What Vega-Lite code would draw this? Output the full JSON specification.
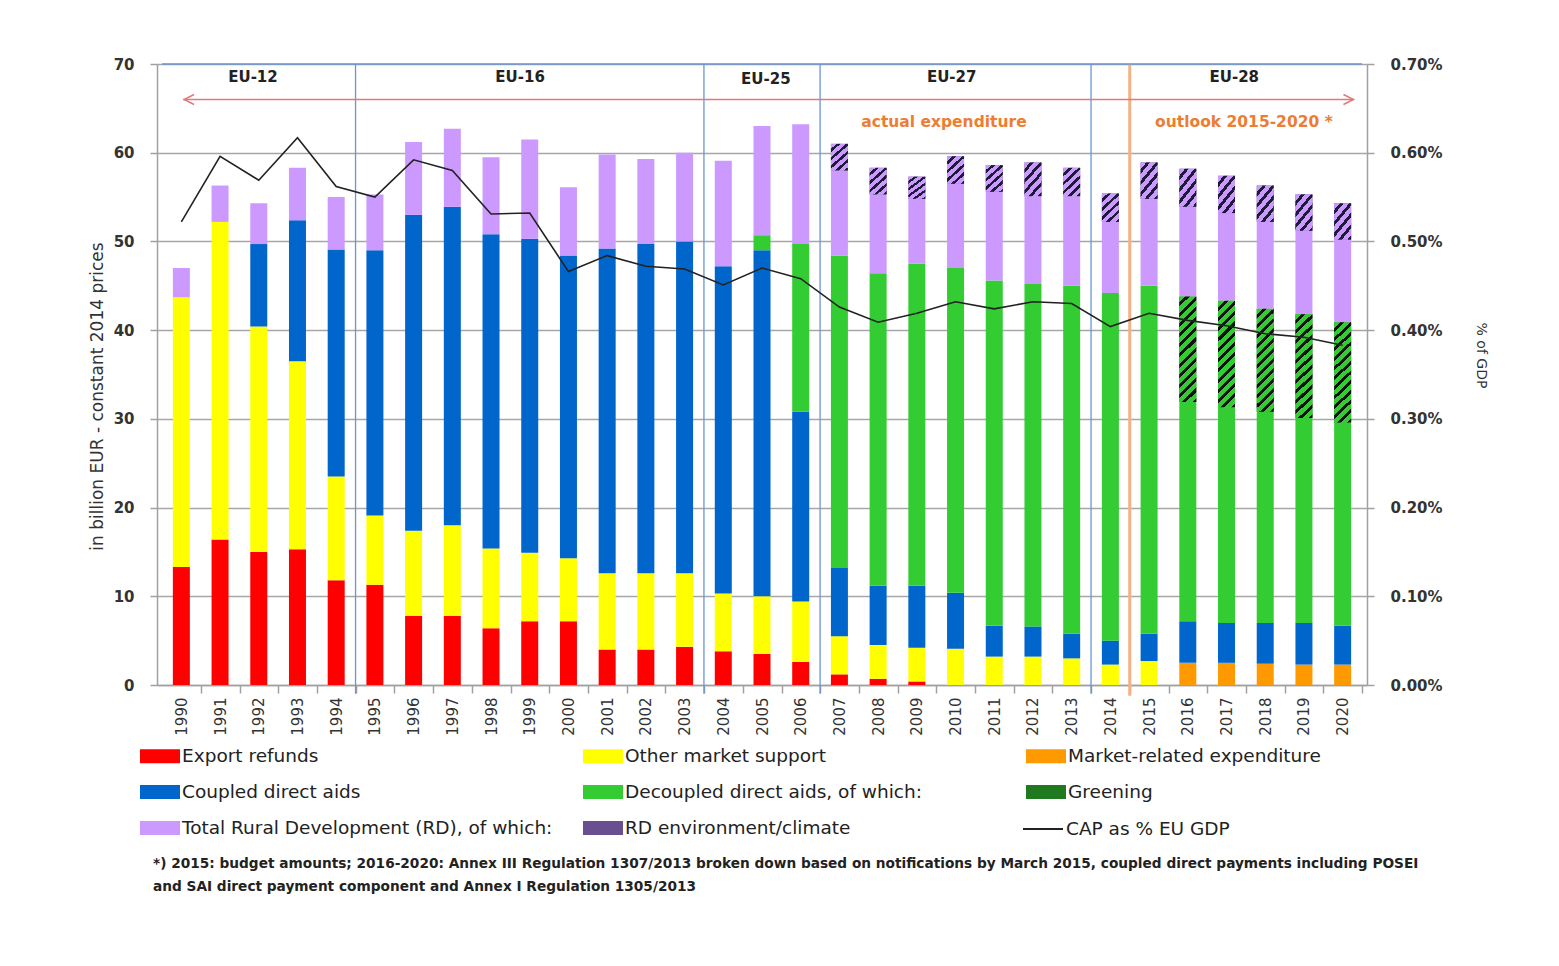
{
  "$schema": "https://vega.github.io/schema/vega-lite/v6.json",
  "width": 1210,
  "height": 621,
  "autosize": {"type": "none"},
  "padding": {"left": 157, "top": 64, "right": 192, "bottom": 281},
  "background": "#ffffff",
  "config": {"font": "DejaVu Sans", "view": {"stroke": null}},
  "title": {
    "text": ["*) 2015: budget amounts; 2016-2020: Annex III Regulation 1307/2013 broken down based on notifications by March 2015, coupled direct payments including POSEI", "and SAI direct payment component and Annex I Regulation 1305/2013"],
    "orient": "bottom", "anchor": "start", "frame": "group", "font": "DejaVu Sans", "fontSize": 13.7, "fontWeight": "bold", "color": "#222222", "offset": 18, "lineHeight": 23, "dx": -4
  },
  "datasets": {
    "cap": [
      {"year": 1990, "a": 13.3, "c": 30.4, "g": 3.3, "gdp": 0.00522},
      {"year": 1991, "a": 16.4, "c": 35.8, "g": 4.1, "gdp": 0.00596},
      {"year": 1992, "a": 15.0, "c": 25.4, "d": 9.3, "g": 4.6, "gdp": 0.00569},
      {"year": 1993, "a": 15.3, "c": 21.2, "d": 15.9, "g": 5.9, "gdp": 0.00617},
      {"year": 1994, "a": 11.8, "c": 11.7, "d": 25.6, "g": 5.9, "gdp": 0.00562},
      {"year": 1995, "a": 11.3, "c": 7.8, "d": 29.9, "g": 6.3, "gdp": 0.0055},
      {"year": 1996, "a": 7.8, "c": 9.6, "d": 35.6, "g": 8.2, "gdp": 0.00592},
      {"year": 1997, "a": 7.8, "c": 10.2, "d": 35.9, "g": 8.8, "gdp": 0.0058},
      {"year": 1998, "a": 6.4, "c": 9.0, "d": 35.4, "g": 8.7, "gdp": 0.00531},
      {"year": 1999, "a": 7.2, "c": 7.7, "d": 35.4, "g": 11.2, "gdp": 0.00532},
      {"year": 2000, "a": 7.2, "c": 7.1, "d": 34.1, "g": 7.7, "gdp": 0.00466},
      {"year": 2001, "a": 4.0, "c": 8.6, "d": 36.6, "g": 10.6, "gdp": 0.00484},
      {"year": 2002, "a": 4.0, "c": 8.6, "d": 37.1, "g": 9.6, "gdp": 0.00472},
      {"year": 2003, "a": 4.3, "c": 8.3, "d": 37.4, "g": 10.0, "gdp": 0.00469},
      {"year": 2004, "a": 3.8, "c": 6.5, "d": 36.9, "g": 11.9, "gdp": 0.00451},
      {"year": 2005, "a": 3.5, "c": 6.5, "d": 39.0, "e": 1.7, "g": 12.3, "gdp": 0.0047},
      {"year": 2006, "a": 2.6, "c": 6.8, "d": 21.4, "e": 18.9, "g": 13.5, "gdp": 0.00458},
      {"year": 2007, "a": 1.2, "c": 4.3, "d": 7.7, "e": 35.2, "g": 9.6, "h": 3.0, "gdp": 0.00426},
      {"year": 2008, "a": 0.7, "c": 3.8, "d": 6.7, "e": 35.2, "g": 8.9, "h": 3.0, "gdp": 0.00409},
      {"year": 2009, "a": 0.4, "c": 3.8, "d": 7.0, "e": 36.3, "g": 7.3, "h": 2.5, "gdp": 0.00419},
      {"year": 2010, "c": 4.1, "d": 6.3, "e": 36.6, "g": 9.5, "h": 3.1, "gdp": 0.00432},
      {"year": 2011, "c": 3.2, "d": 3.5, "e": 38.9, "g": 10.0, "h": 3.0, "gdp": 0.00424},
      {"year": 2012, "c": 3.2, "d": 3.4, "e": 38.6, "g": 9.9, "h": 3.8, "gdp": 0.00432},
      {"year": 2013, "c": 3.0, "d": 2.8, "e": 39.2, "g": 10.1, "h": 3.2, "gdp": 0.0043},
      {"year": 2014, "c": 2.3, "d": 2.7, "e": 39.2, "g": 8.0, "h": 3.2, "gdp": 0.00404},
      {"year": 2015, "c": 2.7, "d": 3.1, "e": 39.2, "g": 9.8, "h": 4.1, "gdp": 0.00419},
      {"year": 2016, "b": 2.5, "d": 4.7, "e": 24.7, "f": 11.9, "g": 10.1, "h": 4.3, "gdp": 0.00411},
      {"year": 2017, "b": 2.5, "d": 4.5, "e": 24.3, "f": 12.0, "g": 9.9, "h": 4.2, "gdp": 0.00405},
      {"year": 2018, "b": 2.4, "d": 4.6, "e": 23.8, "f": 11.6, "g": 9.8, "h": 4.1, "gdp": 0.00396},
      {"year": 2019, "b": 2.3, "d": 4.7, "e": 23.1, "f": 11.7, "g": 9.4, "h": 4.1, "gdp": 0.00392},
      {"year": 2020, "b": 2.3, "d": 4.4, "e": 22.9, "f": 11.3, "g": 9.3, "h": 4.1, "gdp": 0.00383}
    ]
  },
  "encoding": {
    "x": {
      "type": "quantitative",
      "scale": {"domain": [1989.5, 2020.5], "nice": false, "zero": false}
    }
  },
  "layer": [
    {
      "layer": [
        {
          "data": {"name": "cap"},
          "transform": [
            {"fold": ["a", "b", "c", "d", "e", "f", "g", "h"], "as": ["key", "value"]},
            {"filter": "isValid(datum.value)"},
            {"stack": "value", "groupby": ["year"], "sort": [{"field": "key", "order": "ascending"}], "as": ["v0", "v1"]}
          ],
          "layer": [
            {
              "mark": {"type": "bar", "width": 17},
              "encoding": {
                "x": {
                  "field": "year", "type": "quantitative",
                  "axis": {
                    "values": [1990, 1991, 1992, 1993, 1994, 1995, 1996, 1997, 1998, 1999, 2000, 2001, 2002, 2003, 2004, 2005, 2006, 2007, 2008, 2009, 2010, 2011, 2012, 2013, 2014, 2015, 2016, 2017, 2018, 2019, 2020],
                    "format": "d", "labelAngle": -90, "labelFontSize": 15, "labelColor": "#333333",
                    "title": null, "grid": false, "domainColor": "#a0a0a0", "domainWidth": 1.5,
                    "tickColor": "#a0a0a0", "tickWidth": 1.5, "tickSize": 8, "tickOffset": 19.5, "labelOffset": -19.5, "labelPadding": 4
                  }
                },
                "y": {
                  "field": "v0", "type": "quantitative",
                  "scale": {"domain": [0, 70], "nice": false},
                  "axis": {
                    "values": [0, 10, 20, 30, 40, 50, 60, 70],
                    "title": "in billion EUR - constant 2014  prices",
                    "titleFontSize": 17, "titleFontWeight": "normal", "titleColor": "#333333",
                    "titleX": -60, "titleY": 332, "titleAngle": -90, "titleAlign": "center", "titleBaseline": "middle",
                    "labelFontSize": 15, "labelFontWeight": "bold", "labelColor": "#333333", "labelPadding": 16,
                    "tickSize": 7, "tickColor": "#a0a0a0", "tickWidth": 1.5,
                    "domainColor": "#a0a0a0", "domainWidth": 1.5,
                    "gridColor": "#a6a6a6", "gridWidth": 1.5
                  }
                },
                "y2": {"field": "v1"},
                "color": {
                  "field": "key", "type": "nominal",
                  "scale": {
                    "domain": ["a", "d", "g", "c", "e", "h", "b", "f"],
                    "range": ["#ff0000", "#0066cc", "#cc99ff", "#ffff00", "#33cc33", "#6a4f90", "#ff9900", "#1f7a1f"]
                  },
                  "legend": {
                    "title": null, "orient": "none", "legendX": -17, "legendY": 672,
                    "columns": 3, "gridAlign": "all", "columnPadding": 30, "rowPadding": 6, "padding": 0,
                    "symbolType": "M-1,-0.35H1V0.35H-1Z", "symbolSize": 1600, "symbolStrokeWidth": 0,
                    "labelFontSize": 18.5, "labelColor": "#222222", "labelLimit": 500, "labelOffset": 2,
                    "labelExpr": "datum.value=='a'?'Export refunds':datum.value=='b'?'Market-related expenditure':datum.value=='c'?'Other market support':datum.value=='d'?'Coupled direct aids':datum.value=='e'?'Decoupled direct aids, of which:':datum.value=='f'?'Greening':datum.value=='g'?'Total Rural Development (RD), of which:':'RD environment/climate'"
                  }
                }
              }
            },
            {
              "transform": [{"filter": "datum.key === 'f'"}],
              "mark": {"type": "bar", "width": 17, "color": {"gradient": "linear", "x1": 0, "y1": 0, "x2": 0.18, "y2": 1.13, "stops": [
                {"offset": 0, "color": "#33cc33"}, {"offset": 0.05, "color": "#33cc33"}, {"offset": 0.05, "color": "#111111"}, {"offset": 0.0833, "color": "#111111"},
                {"offset": 0.0833, "color": "#33cc33"}, {"offset": 0.1333, "color": "#33cc33"}, {"offset": 0.1333, "color": "#111111"}, {"offset": 0.1667, "color": "#111111"},
                {"offset": 0.1667, "color": "#33cc33"}, {"offset": 0.2167, "color": "#33cc33"}, {"offset": 0.2167, "color": "#111111"}, {"offset": 0.25, "color": "#111111"},
                {"offset": 0.25, "color": "#33cc33"}, {"offset": 0.3, "color": "#33cc33"}, {"offset": 0.3, "color": "#111111"}, {"offset": 0.3333, "color": "#111111"},
                {"offset": 0.3333, "color": "#33cc33"}, {"offset": 0.3833, "color": "#33cc33"}, {"offset": 0.3833, "color": "#111111"}, {"offset": 0.4167, "color": "#111111"},
                {"offset": 0.4167, "color": "#33cc33"}, {"offset": 0.4667, "color": "#33cc33"}, {"offset": 0.4667, "color": "#111111"}, {"offset": 0.5, "color": "#111111"},
                {"offset": 0.5, "color": "#33cc33"}, {"offset": 0.55, "color": "#33cc33"}, {"offset": 0.55, "color": "#111111"}, {"offset": 0.5833, "color": "#111111"},
                {"offset": 0.5833, "color": "#33cc33"}, {"offset": 0.6333, "color": "#33cc33"}, {"offset": 0.6333, "color": "#111111"}, {"offset": 0.6667, "color": "#111111"},
                {"offset": 0.6667, "color": "#33cc33"}, {"offset": 0.7167, "color": "#33cc33"}, {"offset": 0.7167, "color": "#111111"}, {"offset": 0.75, "color": "#111111"},
                {"offset": 0.75, "color": "#33cc33"}, {"offset": 0.8, "color": "#33cc33"}, {"offset": 0.8, "color": "#111111"}, {"offset": 0.8333, "color": "#111111"},
                {"offset": 0.8333, "color": "#33cc33"}, {"offset": 0.8833, "color": "#33cc33"}, {"offset": 0.8833, "color": "#111111"}, {"offset": 0.9167, "color": "#111111"},
                {"offset": 0.9167, "color": "#33cc33"}, {"offset": 0.9667, "color": "#33cc33"}, {"offset": 0.9667, "color": "#111111"}, {"offset": 1, "color": "#111111"}
              ]}},
              "encoding": {
                "x": {"field": "year", "type": "quantitative"},
                "y": {"field": "v0", "type": "quantitative"},
                "y2": {"field": "v1"}
              }
            },
            {
              "transform": [{"filter": "datum.key === 'h'"}],
              "mark": {"type": "bar", "width": 17, "color": {"gradient": "linear", "x1": 0, "y1": 0, "x2": 0.67, "y2": 1.19, "stops": [
                {"offset": 0, "color": "#cc99ff"}, {"offset": 0.12, "color": "#cc99ff"}, {"offset": 0.12, "color": "#1c1c3a"}, {"offset": 0.2, "color": "#1c1c3a"},
                {"offset": 0.2, "color": "#cc99ff"}, {"offset": 0.32, "color": "#cc99ff"}, {"offset": 0.32, "color": "#1c1c3a"}, {"offset": 0.4, "color": "#1c1c3a"},
                {"offset": 0.4, "color": "#cc99ff"}, {"offset": 0.52, "color": "#cc99ff"}, {"offset": 0.52, "color": "#1c1c3a"}, {"offset": 0.6, "color": "#1c1c3a"},
                {"offset": 0.6, "color": "#cc99ff"}, {"offset": 0.72, "color": "#cc99ff"}, {"offset": 0.72, "color": "#1c1c3a"}, {"offset": 0.8, "color": "#1c1c3a"},
                {"offset": 0.8, "color": "#cc99ff"}, {"offset": 0.92, "color": "#cc99ff"}, {"offset": 0.92, "color": "#1c1c3a"}, {"offset": 1, "color": "#1c1c3a"}
              ]}},
              "encoding": {
                "x": {"field": "year", "type": "quantitative"},
                "y": {"field": "v0", "type": "quantitative"},
                "y2": {"field": "v1"}
              }
            }
          ]
        },
        {
          "data": {"values": [{"x": 1994.5}, {"x": 2003.5}, {"x": 2006.5}, {"x": 2013.5}]},
          "mark": {"type": "rule", "color": "#6a95d4", "strokeWidth": 1.3},
          "encoding": {"x": {"field": "x", "type": "quantitative"}, "y": {"datum": -1}, "y2": {"datum": 70}}
        },
        {
          "data": {"values": [{"x": 2014.5}]},
          "mark": {"type": "rule", "color": "#f4b183", "strokeWidth": 3},
          "encoding": {"x": {"field": "x", "type": "quantitative"}, "y": {"datum": -1.2}, "y2": {"datum": 70}}
        },
        {
          "data": {"values": [{"x1": 1989.5, "x2": 2020.5, "y": 70}]},
          "mark": {"type": "rule", "color": "#6a95d4", "strokeWidth": 1.5},
          "encoding": {"x": {"field": "x1", "type": "quantitative"}, "x2": {"field": "x2"}, "y": {"field": "y", "type": "quantitative"}}
        },
        {
          "data": {"values": [{"x1": 1990.05, "x2": 2020.3, "y": 66}]},
          "mark": {"type": "rule", "color": "#e07a7a", "strokeWidth": 1.5},
          "encoding": {"x": {"field": "x1", "type": "quantitative"}, "x2": {"field": "x2"}, "y": {"field": "y", "type": "quantitative"}}
        },
        {
          "data": {"values": [{"x": 1990.2, "y": 66}]},
          "mark": {"type": "point", "shape": "M1,-1L-1,0L1,1", "size": 100, "filled": false, "color": "#e07a7a", "strokeWidth": 1.5, "opacity": 1},
          "encoding": {"x": {"field": "x", "type": "quantitative"}, "y": {"field": "y", "type": "quantitative"}}
        },
        {
          "data": {"values": [{"x": 2020.15, "y": 66}]},
          "mark": {"type": "point", "shape": "M-1,-1L1,0L-1,1", "size": 100, "filled": false, "color": "#e07a7a", "strokeWidth": 1.5, "opacity": 1},
          "encoding": {"x": {"field": "x", "type": "quantitative"}, "y": {"field": "y", "type": "quantitative"}}
        },
        {
          "data": {"values": [
            {"x": 1991.85, "y": 68.5, "label": "EU-12"},
            {"x": 1998.75, "y": 68.5, "label": "EU-16"},
            {"x": 2005.1, "y": 68.3, "label": "EU-25"},
            {"x": 2009.9, "y": 68.5, "label": "EU-27"},
            {"x": 2017.2, "y": 68.5, "label": "EU-28"}
          ]},
          "mark": {"type": "text", "fontSize": 15, "fontWeight": "bold", "color": "#222222", "align": "center", "baseline": "middle"},
          "encoding": {"x": {"field": "x", "type": "quantitative"}, "y": {"field": "y", "type": "quantitative"}, "text": {"field": "label"}}
        },
        {
          "data": {"values": [
            {"x": 2009.7, "y": 63.5, "label": "actual expenditure"},
            {"x": 2017.45, "y": 63.5, "label": "outlook 2015-2020 *"}
          ]},
          "mark": {"type": "text", "fontSize": 15.5, "fontWeight": "bold", "color": "#ed7d31", "align": "center", "baseline": "middle"},
          "encoding": {"x": {"field": "x", "type": "quantitative"}, "y": {"field": "y", "type": "quantitative"}, "text": {"field": "label"}}
        }
      ]
    },
    {
      "data": {"name": "cap"},
      "mark": {"type": "line", "strokeWidth": 1.6},
      "encoding": {
        "x": {"field": "year", "type": "quantitative"},
        "y": {
          "field": "gdp", "type": "quantitative",
          "scale": {"domain": [0, 0.007], "nice": false},
          "axis": {
            "orient": "right", "values": [0, 0.001, 0.002, 0.003, 0.004, 0.005, 0.006, 0.007], "format": ".2%",
            "grid": false, "labelFontSize": 15, "labelFontWeight": "bold", "labelColor": "#333333", "labelPadding": 16,
            "tickSize": 7, "tickColor": "#a0a0a0", "tickWidth": 1.5, "domainColor": "#a0a0a0", "domainWidth": 1.5,
            "title": "% of GDP", "titleAngle": 90, "titleFontSize": 14, "titleFontWeight": "normal", "titleColor": "#333333",
            "titleX": 113, "titleY": 291, "titleAlign": "center", "titleBaseline": "middle"
          }
        },
        "stroke": {
          "datum": "CAP as % EU GDP", "type": "nominal",
          "scale": {"range": ["#222222"]},
          "legend": {
            "title": null, "orient": "none", "legendX": 865, "legendY": 744, "padding": 0,
            "symbolType": "stroke", "symbolSize": 1600, "symbolStrokeWidth": 2,
            "labelFontSize": 18.5, "labelColor": "#222222", "labelLimit": 400, "labelOffset": 2
          }
        }
      }
    }
  ],
  "resolve": {"scale": {"y": "independent"}}
}
